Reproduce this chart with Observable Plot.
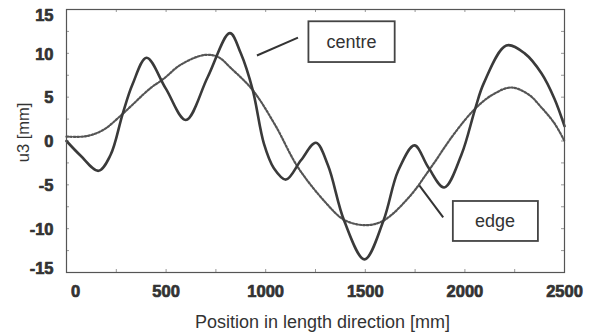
<!DOCTYPE html>
<html>
<head>
<meta charset="utf-8">
<script src="https://cdn.jsdelivr.net/npm/d3@7"></script>
<script src="https://cdn.jsdelivr.net/npm/@observablehq/plot@0.6"></script>
<style>
  html, body { margin: 0; padding: 0; background: #fff; }
  #chart svg { display: block; }
</style>
</head>
<body>
<div id="chart"></div>
<script>
// Centre line (solid)
const centrePos = [0, 70, 161, 221, 282, 332, 402, 498, 599, 709, 820, 875, 935, 991, 1041, 1102, 1177, 1252, 1313, 1394, 1496, 1591, 1665, 1747, 1816, 1896, 1982, 2052, 2095, 2208, 2300, 2385, 2450, 2500];
const centreU3 = [0, -1.65, -3.4, -1.6, 3.1, 6.5, 9.5, 6.0, 2.4, 7.3, 12.3, 10.0, 5.8, -0.3, -3.1, -4.4, -2.2, -0.2, -2.8, -9.1, -13.5, -9.1, -3.4, -0.5, -3.0, -5.3, -1.6, 3.7, 6.6, 10.9, 10.0, 7.7, 4.8, 1.7];

// Edge line (dotted)
const edgePos = [0, 100, 187, 282, 420, 488, 573, 690, 760, 826, 935, 1048, 1162, 1300, 1394, 1500, 1590, 1720, 1830, 1947, 2052, 2140, 2233, 2320, 2385, 2450, 2500];
const edgeU3 = [0.5, 0.55, 1.3, 3.1, 6.0, 7.1, 8.7, 9.8, 9.6, 8.3, 5.8, 1.8, -3.0, -7.0, -9.0, -9.6, -9.1, -6.4, -3.0, 0.85, 3.7, 5.3, 6.1, 5.3, 3.8, 2.0, 0.0];

// Axes
const xTicks = [0, 500, 1000, 1500, 2000, 2500];
const xMinorTicks = [250, 500, 750, 1000, 1250, 1500, 1750, 2000, 2250];
const yTicks = [-15, -10, -5, 0, 5, 10, 15];
const yMinorTicks = [-12.5, -10, -7.5, -5, -2.5, 0, 2.5, 5, 7.5, 10, 12.5];

// Annotations
const noteText = ["centre", "edge"];
const noteX = [1431, 2151];
const noteY = [11.3, -9.15];
const boxX1 = [1217, 1942];
const boxX2 = [1650, 2369];
const boxY1 = [13.6, -6.9];
const boxY2 = [8.95, -11.46];
const leadX1 = [956, 1771];
const leadY1 = [9.75, -5.07];
const leadX2 = [1162, 1891];
const leadY2 = [11.8, -8.72];

const centre = centrePos.map((x, i) => ({x, y: centreU3[i]}));
const edge = edgePos.map((x, i) => ({x, y: edgeU3[i]}));
const notes = noteText.map((t, i) => ({
  t, x: noteX[i], y: noteY[i],
  x1: boxX1[i], x2: boxX2[i], y1: boxY1[i], y2: boxY2[i],
  lx1: leadX1[i], ly1: leadY1[i], lx2: leadX2[i], ly2: leadY2[i]
}));

const ink = "#333";
const fmt = d => String(d);
const tickStyle = {
  tickSize: 0, tickPadding: 13, tickFormat: fmt,
  fontSize: 16.5, fontWeight: "bold",
  fill: ink, textStroke: ink, textStrokeWidth: 0.7, label: null
};
const chart = Plot.plot({
  width: 589,
  height: 335,
  marginLeft: 66,
  marginRight: 25,
  marginTop: 9,
  marginBottom: 63,
  x: {domain: [0, 2500]},
  y: {domain: [-15, 15]},
  style: {fontFamily: "Liberation Sans", background: "#fff", color: ink},
  marks: [
    // inward minor ticks
    Plot.tickX(xMinorTicks, {x: d => d, insetBottom: 260, stroke: "#999", strokeWidth: 1}),
    Plot.tickX(xMinorTicks, {x: d => d, insetTop: 260, stroke: "#999", strokeWidth: 1}),
    Plot.tickY(yMinorTicks, {y: d => d, insetLeft: 495, stroke: "#999", strokeWidth: 1}),
    Plot.tickY(yMinorTicks, {y: d => d, insetRight: 495, stroke: "#999", strokeWidth: 1}),
    // lines
    Plot.line(edge, {x: "x", y: "y", curve: "catmull-rom", stroke: "#555", strokeWidth: 2.2, strokeDasharray: "1.8,1.8"}),
    Plot.line(centre, {x: "x", y: "y", curve: "catmull-rom", stroke: "#3a3a3a", strokeWidth: 2.6}),
    Plot.frame({stroke: "#555", strokeWidth: 1.2}),
    // x tick labels
    Plot.axisX(xTicks.filter(d => d !== 0), tickStyle),
    Plot.axisX([0], {...tickStyle, dx: 9}),
    // y tick labels
    Plot.axisY(yTicks.filter(d => Math.abs(d) !== 15), {...tickStyle, dy: 1}),
    Plot.axisY([15], {...tickStyle, dy: 6}),
    Plot.axisY([-15], {...tickStyle, dy: -4}),
    // axis titles
    Plot.text(["Position in length direction [mm]"], {frameAnchor: "bottom", dy: 50, dx: 7, lineAnchor: "middle", fontSize: 18, fill: ink}),
    Plot.text(["u3 [mm]"], {frameAnchor: "left", dx: -43, dy: -8.5, rotate: -90, lineAnchor: "middle", textAnchor: "middle", fontSize: 16.5, fill: ink}),
    // annotations
    Plot.link(notes, {x1: "lx1", y1: "ly1", x2: "lx2", y2: "ly2", stroke: "#333", strokeWidth: 2}),
    Plot.rect(notes, {x1: "x1", x2: "x2", y1: "y1", y2: "y2", fill: "#fff", stroke: "#444", strokeWidth: 1.8}),
    Plot.text(notes, {x: "x", y: "y", text: "t", fontSize: 18, fill: ink})
  ]
});
document.getElementById("chart").appendChild(chart);
</script>
</body>
</html>
